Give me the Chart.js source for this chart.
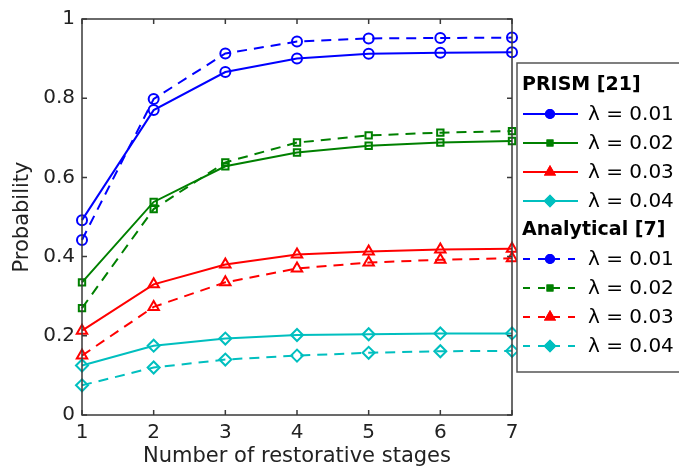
<!DOCTYPE html>
<html>
<head>
<meta charset="utf-8">
<script src="https://cdn.jsdelivr.net/npm/chart.js@4"></script>
<style>
  html, body { margin: 0; padding: 0; background: #fff; }
  #wrap { width: 679px; height: 470px; }
</style>
</head>
<body>
<div id="wrap"><canvas id="myChart" width="679" height="470"></canvas></div>
<script>
const stages = [1, 2, 3, 4, 5, 6, 7];
const yTicks = [0, 0.2, 0.4, 0.6, 0.8, 1];

// PRISM [21] (solid)
const prism001 = [0.492, 0.770, 0.866, 0.900, 0.912, 0.915, 0.916];
const prism002 = [0.335, 0.538, 0.628, 0.663, 0.680, 0.688, 0.692];
const prism003 = [0.213, 0.330, 0.380, 0.405, 0.413, 0.418, 0.420];
const prism004 = [0.125, 0.175, 0.193, 0.202, 0.204, 0.206, 0.206];
// Analytical [7] (dashed)
const ana001 = [0.442, 0.798, 0.913, 0.943, 0.951, 0.952, 0.953];
const ana002 = [0.270, 0.520, 0.638, 0.688, 0.706, 0.713, 0.717];
const ana003 = [0.150, 0.273, 0.335, 0.370, 0.385, 0.392, 0.396];
const ana004 = [0.075, 0.120, 0.140, 0.150, 0.157, 0.161, 0.162];

const lambdaLabels = ['λ = 0.01', 'λ = 0.02', 'λ = 0.03', 'λ = 0.04'];
const colors = ['#0000ff', '#008000', '#ff0000', '#00bfbf'];
const markers = ['circle', 'rect', 'triangle', 'rectRot'];
const markerSizes = [5, 4.5, 6, 6];

function xy(vals) {
    return vals.map((v, i) => ({ x: stages[i], y: v }));
}

function series(vals, i, dashed, group) {
    return {
        label: lambdaLabels[i],
        group: group,
        data: xy(vals),
        borderColor: colors[i],
        backgroundColor: colors[i],
        borderWidth: 2,
        borderDash: dashed ? [10, 7] : [],
        pointStyle: markers[i],
        pointRadius: markerSizes[i],
        pointBorderWidth: 2,
        pointBackgroundColor: 'rgba(255,255,255,0)',
        pointBorderColor: colors[i],
        fill: false,
        tension: 0,
        clip: false
    };
}

const datasets = [
    series(prism001, 0, false, 'PRISM [21]'),
    series(prism002, 1, false, 'PRISM [21]'),
    series(prism003, 2, false, 'PRISM [21]'),
    series(prism004, 3, false, 'PRISM [21]'),
    series(ana001, 0, true, 'Analytical [7]'),
    series(ana002, 1, true, 'Analytical [7]'),
    series(ana003, 2, true, 'Analytical [7]'),
    series(ana004, 3, true, 'Analytical [7]')
];

const AXIS = '#3a3a3a';

// matlab-like box with inward ticks
const boxPlugin = {
    id: 'box',
    afterDraw(chart) {
        const { ctx, chartArea: a, scales } = chart;
        ctx.save();
        ctx.strokeStyle = AXIS;
        ctx.lineWidth = 1.5;
        ctx.beginPath();
        stages.forEach(v => {
            const px = scales.x.getPixelForValue(v);
            ctx.moveTo(px, a.bottom); ctx.lineTo(px, a.bottom - 5);
            ctx.moveTo(px, a.top); ctx.lineTo(px, a.top + 5);
        });
        yTicks.forEach(v => {
            const py = scales.y.getPixelForValue(v);
            ctx.moveTo(a.left, py); ctx.lineTo(a.left + 5, py);
            ctx.moveTo(a.right, py); ctx.lineTo(a.right - 5, py);
        });
        ctx.stroke();
        ctx.strokeRect(a.left, a.top, a.right - a.left, a.bottom - a.top);
        ctx.restore();
    }
};

// legend with group headers
const legendPlugin = {
    id: 'groupLegend',
    afterDraw(chart) {
        const ctx = chart.ctx;
        const bx = 517, by = 63, bw = 200, bh = 309;
        ctx.save();
        ctx.fillStyle = '#fff';
        ctx.fillRect(bx, by, bw, bh);
        ctx.strokeStyle = '#555';
        ctx.lineWidth = 1.5;
        ctx.strokeRect(bx, by, bw, bh);
        let y = 85;
        const step = 29;
        let lastGroup = null;
        chart.data.datasets.forEach(ds => {
            if (ds.group !== lastGroup) {
                ctx.fillStyle = '#000';
                ctx.font = 'bold 19px "DejaVu Sans"';
                ctx.textBaseline = 'middle';
                ctx.textAlign = 'left';
                ctx.fillText(ds.group, 522, y);
                y += step;
                lastGroup = ds.group;
            }
            ctx.strokeStyle = ds.borderColor;
            ctx.lineWidth = 2;
            ctx.setLineDash(ds.borderDash.length ? [7, 8] : []);
            ctx.beginPath();
            ctx.moveTo(523, y); ctx.lineTo(578, y);
            ctx.stroke();
            ctx.setLineDash([]);
            Chart.helpers.drawPoint(ctx, {
                pointStyle: ds.pointStyle,
                radius: ds.pointRadius - 1,
                borderWidth: 2
            }, 550, y);
            ctx.fillStyle = ds.borderColor;
            ctx.fill();
            ctx.stroke();
            ctx.fillStyle = '#000';
            ctx.font = '20px "DejaVu Sans"';
            ctx.textBaseline = 'middle';
            ctx.fillText(ds.label, 588, y + 1);
            y += step;
        });
        ctx.restore();
    }
};

const myChart = new Chart(document.getElementById('myChart'), {
    type: 'line',
    data: { datasets: datasets },
    options: {
        responsive: false,
        animation: false,
        layout: { padding: { left: 0, right: 167, top: 15, bottom: 0 } },
        plugins: {
            legend: { display: false },
            tooltip: { enabled: false }
        },
        scales: {
            x: {
                type: 'linear',
                min: 1,
                max: 7,
                afterFit: s => { s.height = 55; },
                afterBuildTicks: s => { s.ticks = stages.map(v => ({ value: v })); },
                grid: { display: false, drawTicks: false },
                border: { display: false },
                ticks: {
                    color: '#222',
                    padding: 6,
                    font: { family: 'DejaVu Sans', size: 20 }
                },
                title: {
                    display: true,
                    text: 'Number of restorative stages',
                    color: '#222',
                    padding: { top: 0, bottom: 1 },
                    font: { family: 'DejaVu Sans', size: 21 }
                }
            },
            y: {
                min: 0,
                max: 1,
                afterFit: s => { s.width = 82; },
                afterBuildTicks: s => { s.ticks = yTicks.map(v => ({ value: v })); },
                grid: { display: false, drawTicks: false },
                border: { display: false },
                ticks: {
                    color: '#222',
                    padding: 7,
                    callback: v => String(v),
                    font: { family: 'DejaVu Sans', size: 20 }
                },
                title: {
                    display: true,
                    text: 'Probability',
                    color: '#222',
                    padding: { top: 10, bottom: 0 },
                    font: { family: 'DejaVu Sans', size: 21 }
                }
            }
        }
    },
    plugins: [boxPlugin, legendPlugin]
});
</script>
</body>
</html>
